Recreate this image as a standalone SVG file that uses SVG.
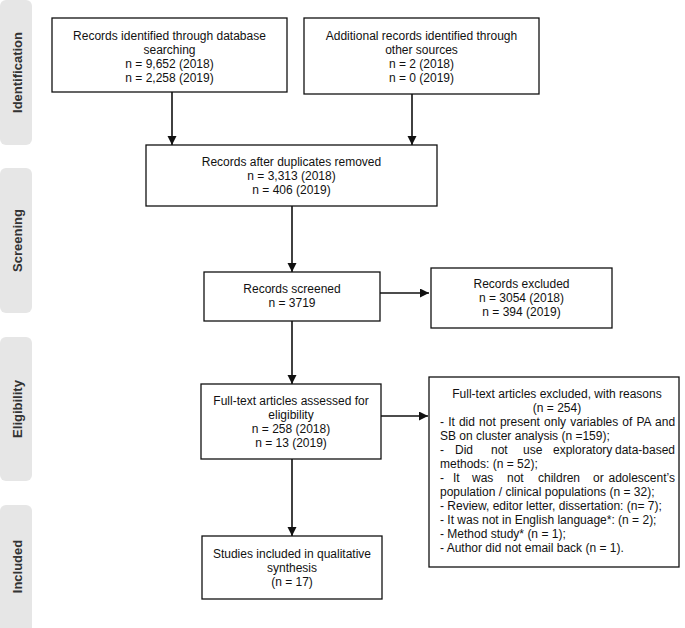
<svg xmlns="http://www.w3.org/2000/svg" width="685" height="628" viewBox="0 0 685 628">
  <style>
    .bar { fill: #e6e6e6; }
    .side { font-family: "Liberation Sans", Arial, sans-serif; font-size: 13px; font-weight: bold; fill: #333; text-anchor: middle; }
    .box { fill: #fff; stroke: #111; stroke-width: 1.3; }
    .t { font-family: "Liberation Sans", Arial, sans-serif; font-size: 12px; fill: #111; text-anchor: middle; }
    .l { font-family: "Liberation Sans", Arial, sans-serif; font-size: 12px; fill: #111; }
    .e { text-anchor: end; }
    .conn { stroke: #111; stroke-width: 1.6; fill: none; marker-end: url(#arr); }
  </style>
  <defs>
    <marker id="arr" markerUnits="userSpaceOnUse" markerWidth="10" markerHeight="10" refX="9" refY="4.5" orient="auto">
      <path d="M0,0 L9,4.5 L0,9 z" fill="#111"/>
    </marker>
  </defs>
  <rect width="685" height="628" fill="#fff"/>

  <g id="phase-identification">
    <rect class="bar" x="0" y="0" width="32" height="145" rx="6"/>
    <text class="side" transform="translate(17,72.5) rotate(-90)" x="0" y="4.5">Identification</text>
  </g>
  <g id="phase-screening">
    <rect class="bar" x="0" y="168" width="32" height="145" rx="6"/>
    <text class="side" transform="translate(17,240.5) rotate(-90)" x="0" y="4.5">Screening</text>
  </g>
  <g id="phase-eligibility">
    <rect class="bar" x="0" y="337" width="32" height="144" rx="6"/>
    <text class="side" transform="translate(17,409) rotate(-90)" x="0" y="4.5">Eligibility</text>
  </g>
  <g id="phase-included">
    <rect class="bar" x="0" y="505" width="32" height="130" rx="6"/>
    <text class="side" transform="translate(17,566.5) rotate(-90)" x="0" y="4.5">Included</text>
  </g>

  <g id="connectors">
    <line class="conn" x1="172" y1="92" x2="172" y2="145"/>
    <line class="conn" x1="412" y1="94" x2="412" y2="145"/>
    <line class="conn" x1="292" y1="206" x2="292" y2="272"/>
    <line class="conn" x1="380" y1="293" x2="429" y2="293"/>
    <line class="conn" x1="292" y1="321" x2="292" y2="384"/>
    <line class="conn" x1="381" y1="416" x2="428" y2="416"/>
    <line class="conn" x1="292" y1="459" x2="292" y2="536"/>
  </g>

  <g id="db-records">
    <rect class="box" x="52" y="18" width="235" height="74"/>
    <text class="t" x="169.5" y="40">Records identified through database</text>
    <text class="t" x="169.5" y="54">searching</text>
    <text class="t" x="169.5" y="68">n = 9,652 (2018)</text>
    <text class="t" x="169.5" y="82">n = 2,258 (2019)</text>
  </g>

  <g id="other-records">
    <rect class="box" x="304" y="18" width="235" height="76"/>
    <text class="t" x="421.5" y="40">Additional records identified through</text>
    <text class="t" x="421.5" y="54">other sources</text>
    <text class="t" x="421.5" y="68">n = 2 (2018)</text>
    <text class="t" x="421.5" y="82">n = 0 (2019)</text>
  </g>

  <g id="dedup">
    <rect class="box" x="146" y="145" width="291" height="61"/>
    <text class="t" x="291.5" y="166">Records after duplicates removed</text>
    <text class="t" x="291.5" y="180">n = 3,313 (2018)</text>
    <text class="t" x="291.5" y="194">n = 406 (2019)</text>
  </g>

  <g id="screened">
    <rect class="box" x="204" y="272" width="176" height="49"/>
    <text class="t" x="292" y="293">Records screened</text>
    <text class="t" x="292" y="307">n = 3719</text>
  </g>

  <g id="excluded">
    <rect class="box" x="431" y="268" width="181" height="60"/>
    <text class="t" x="521.5" y="288">Records excluded</text>
    <text class="t" x="521.5" y="302">n = 3054 (2018)</text>
    <text class="t" x="521.5" y="316">n = 394 (2019)</text>
  </g>

  <g id="fulltext">
    <rect class="box" x="201" y="384" width="180" height="75"/>
    <text class="t" x="291" y="405">Full-text articles assessed for</text>
    <text class="t" x="291" y="419">eligibility</text>
    <text class="t" x="291" y="433">n = 258 (2018)</text>
    <text class="t" x="291" y="447">n = 13 (2019)</text>
  </g>

  <g id="fulltext-excluded">
    <rect class="box" x="429" y="377" width="250" height="190"/>
    <text class="t" x="557" y="398">Full-text articles excluded, with reasons</text>
    <text class="t" x="557" y="412">(n = 254)</text>
    <text class="l" x="440" y="426" word-spacing="0.8">- It did not present only variables of PA and</text>
    <text class="l" x="440" y="440">SB on cluster analysis (n =159);</text>
    <text class="l" x="440" y="454">-</text>
    <text class="l" x="455" y="454">Did</text>
    <text class="l" x="491" y="454">not</text>
    <text class="l" x="523" y="454">use</text>
    <text class="l" x="553" y="454">exploratory</text>
    <text class="l e" x="675" y="454">data-based</text>
    <text class="l" x="440" y="468">methods: (n = 52);</text>
    <text class="l" x="440" y="482">-</text>
    <text class="l" x="453" y="482">It</text>
    <text class="l" x="472" y="482">was</text>
    <text class="l" x="507" y="482">not</text>
    <text class="l" x="538" y="482">children</text>
    <text class="l" x="593" y="482">or</text>
    <text class="l e" x="675" y="482">adolescent’s</text>
    <text class="l" x="440" y="496">population / clinical populations (n = 32);</text>
    <text class="l" x="440" y="510">- Review, editor letter, dissertation: (n= 7);</text>
    <text class="l" x="440" y="524">- It was not in English language*: (n = 2);</text>
    <text class="l" x="440" y="538">- Method study* (n = 1);</text>
    <text class="l" x="440" y="552">- Author did not email back (n = 1).</text>
  </g>

  <g id="included">
    <rect class="box" x="202" y="536" width="180" height="63"/>
    <text class="t" x="292" y="558">Studies included in qualitative</text>
    <text class="t" x="292" y="572">synthesis</text>
    <text class="t" x="292" y="586">(n = 17)</text>
  </g>
</svg>
